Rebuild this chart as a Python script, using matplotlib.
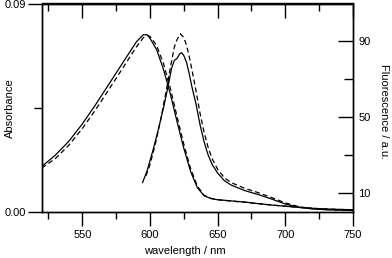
import matplotlib
matplotlib.use("Agg")
import matplotlib.pyplot as plt
from matplotlib.ticker import FixedLocator, MultipleLocator, NullFormatter

plt.rcParams['font.family'] = ['Liberation Sans', 'DejaVu Sans']
plt.rcParams['font.size'] = 8

# Absorbance (left axis)
abs_nm = [520, 530, 540, 550, 560, 570, 580, 585, 590, 595, 598, 600, 605, 610,
          615, 620, 625, 630, 635, 640, 645, 650, 660, 670, 680, 690, 700, 710,
          720, 730, 740, 750]
abs_solid = [0.0196, 0.0245, 0.0305, 0.0380, 0.0465, 0.0555, 0.0645, 0.0690,
             0.0735, 0.0765, 0.0765, 0.0750, 0.0700, 0.0615, 0.0510, 0.0390,
             0.0275, 0.0175, 0.0105, 0.0070, 0.0058, 0.0053, 0.0048, 0.0043,
             0.0036, 0.0030, 0.0025, 0.0020, 0.0016, 0.0013, 0.0011, 0.0010]
abs_dashed = [0.0190, 0.0230, 0.0288, 0.0360, 0.0443, 0.0532, 0.0622, 0.0668,
              0.0713, 0.0752, 0.0762, 0.0758, 0.0718, 0.0640, 0.0535, 0.0412,
              0.0292, 0.0188, 0.0112, 0.0072, 0.0059, 0.0053, 0.0047, 0.0042,
              0.0036, 0.0030, 0.0025, 0.0020, 0.0016, 0.0013, 0.0011, 0.0010]

# Fluorescence (right axis)
fl_nm_solid = [594.5, 598, 602, 606, 610, 613, 616, 618, 620, 622, 623.5, 625,
               627, 629, 631, 634, 637, 640, 643, 646, 650, 655, 660, 670, 680,
               690, 700, 710, 720, 730, 740, 750]
fl_solid = [15.5, 22, 32, 43, 55, 65, 76, 80, 81, 83.5, 84, 82.5, 79, 73, 66,
            57, 46, 37, 30, 25, 20.5, 16.5, 14.2, 11.3, 9.2, 6.8, 4.2, 2.5,
            1.6, 1.2, 1.0, 0.8]
fl_nm_dashed = [597, 600, 604, 608, 612, 615, 618, 620, 622.5, 625, 627, 629,
                631, 634, 637, 640, 643, 646, 650, 655, 660, 670, 680, 690,
                700, 710, 720, 730, 740, 750]
fl_dashed = [19, 25, 36, 49, 64, 76, 87, 91, 94, 92, 88, 82, 75, 64, 52, 42,
             34, 28, 22.5, 18, 15.5, 12.5, 10.2, 7.6, 4.8, 2.8, 1.8, 1.3, 1.0,
             0.8]

W, H = 392, 258
fig = plt.figure(figsize=(W / 100, H / 100), dpi=100)
L, R, B, T = 41.7, 353.0, 212.0, 3.5
ax = fig.add_axes([L / W, 1 - B / H, (R - L) / W, (B - T) / H])

lw = 0.9
dash = (0, (4, 2.5))
ax.plot(abs_nm, abs_solid, color='black', lw=lw)
ax.plot(abs_nm, abs_dashed, color='black', lw=lw, linestyle=dash)
ax.set_xlim(520, 750)
ax.set_ylim(0, 0.09)

ax2 = ax.twinx()
ax2.plot(fl_nm_solid, fl_solid, color='black', lw=lw)
ax2.plot(fl_nm_dashed, fl_dashed, color='black', lw=lw, linestyle=dash)
ax2.set_ylim(0, 110)

for a in (ax, ax2):
    for s in a.spines.values():
        s.set_linewidth(1.0)

# bottom axis
ax.xaxis.set_major_locator(MultipleLocator(50))
ax.xaxis.set_minor_locator(MultipleLocator(25))
ax.tick_params(axis='x', which='major', direction='out', length=10, width=1.0, pad=3)
ax.tick_params(axis='x', which='minor', direction='out', length=5.2, width=1.0)

# left axis
ax.yaxis.set_major_locator(FixedLocator([0.0, 0.09]))
ax.yaxis.set_minor_locator(FixedLocator([0.045]))
ax.set_yticklabels(['0.00', '0.09'])
ax.tick_params(axis='y', which='major', direction='out', length=10, width=1.0, pad=1)
ax.tick_params(axis='y', which='minor', direction='out', length=6, width=1.0)

# top axis (inward ticks, no labels)
top = ax.secondary_xaxis('top')
top.xaxis.set_major_locator(MultipleLocator(50))
top.xaxis.set_minor_locator(MultipleLocator(25))
top.xaxis.set_major_formatter(NullFormatter())
top.tick_params(axis='x', which='major', direction='in', length=10.5, width=1.0)
top.tick_params(axis='x', which='minor', direction='in', length=5.8, width=1.0)
top.spines['top'].set_linewidth(1.0)

# right axis
ax2.yaxis.set_major_locator(FixedLocator([10, 50, 90]))
ax2.yaxis.set_minor_locator(FixedLocator([30, 70]))
ax2.tick_params(axis='y', which='major', direction='in', length=10.8, width=1.0, pad=4)
ax2.tick_params(axis='y', which='minor', direction='in', length=6.5, width=1.0)

fig.text(184.7 / W, 1 - 251 / H, 'wavelength / nm', ha='center', va='center', fontsize=8)
fig.text(9.5 / W, 1 - 108 / H, 'Absorbance', ha='center', va='center', rotation=90, fontsize=8)
fig.text(384 / W, 1 - 112 / H, 'Fluorescence / a.u.', ha='center', va='center', rotation=-90, fontsize=8)

fig.savefig('out.png', dpi=100)
